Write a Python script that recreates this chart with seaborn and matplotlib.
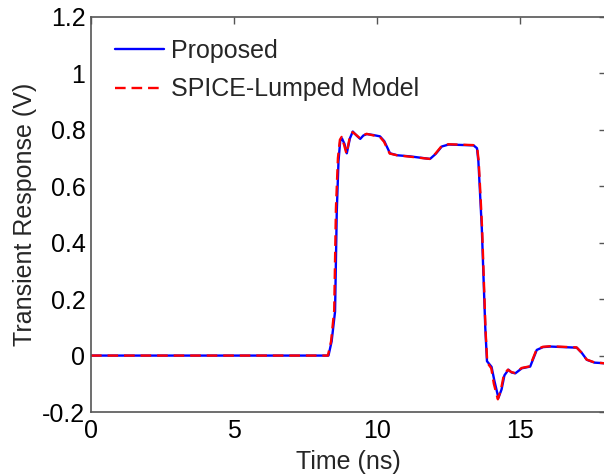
import numpy as np
import pandas as pd
import matplotlib
matplotlib.use("Agg")
import matplotlib.pyplot as plt
import seaborn as sns

# Data
t_prop = [0.0, 8.30, 8.41, 8.53, 8.59, 8.65, 8.71, 8.77, 8.86, 8.94, 9.05, 9.15, 9.28, 9.41,
          9.52, 9.64, 9.85, 10.10, 10.25, 10.45, 10.70, 11.15, 11.85, 12.05, 12.26, 12.5,
          13.37, 13.49, 13.54, 13.60, 13.66, 13.72, 13.78, 13.84, 14.00, 14.10, 14.24,
          14.35, 14.45, 14.59, 14.70, 14.83, 15.06, 15.35, 15.58, 15.80, 16.05, 16.98,
          17.15, 17.33, 17.60, 17.91, 18.20]
v_prop = [0.0, 0.0, 0.05, 0.156, 0.51, 0.688, 0.76, 0.77, 0.75, 0.717, 0.77, 0.794, 0.78, 0.768,
          0.78, 0.785, 0.782, 0.777, 0.76, 0.717, 0.71, 0.706, 0.697, 0.715, 0.741, 0.748,
          0.745, 0.735, 0.688, 0.57, 0.45, 0.274, 0.10, -0.02, -0.04, -0.09, -0.15,
          -0.12, -0.07, -0.05, -0.06, -0.063, -0.045, -0.039, 0.02, 0.03, 0.032, 0.028,
          0.01, -0.015, -0.025, -0.027, -0.03]
t_spice = [0.0, 8.28, 8.39, 8.50, 8.56, 8.63, 8.70, 8.76, 8.85, 8.93, 9.04, 9.14, 9.27, 9.40,
           9.51, 9.63, 9.84, 10.09, 10.24, 10.44, 10.69, 11.14, 11.84, 12.04, 12.25, 12.49,
           13.36, 13.50, 13.55, 13.61, 13.67, 13.73, 13.79, 13.85, 13.99, 14.08, 14.22,
           14.33, 14.43, 14.57, 14.68, 14.82, 15.05, 15.34, 15.57, 15.79, 16.04, 16.97,
           17.14, 17.32, 17.59, 17.90, 18.20]
v_spice = [0.0, 0.0, 0.05, 0.16, 0.52, 0.70, 0.765, 0.775, 0.745, 0.715, 0.772, 0.792, 0.782, 0.77,
           0.78, 0.786, 0.781, 0.776, 0.758, 0.716, 0.71, 0.705, 0.697, 0.716, 0.742, 0.749,
           0.746, 0.735, 0.69, 0.575, 0.45, 0.27, 0.09, -0.025, -0.045, -0.10, -0.155,
           -0.12, -0.068, -0.05, -0.058, -0.062, -0.044, -0.038, 0.021, 0.031, 0.033, 0.029,
           0.011, -0.014, -0.024, -0.027, -0.03]
x_ticks = [0, 5, 10, 15]
y_ticks = [-0.2, 0, 0.2, 0.4, 0.6, 0.8, 1.0, 1.2]
y_tick_labels = ["-0.2", "0", "0.2", "0.4", "0.6", "0.8", "1", "1.2"]

df = pd.concat([
    pd.DataFrame({"t": t_prop, "v": v_prop, "s": "Proposed"}),
    pd.DataFrame({"t": t_spice, "v": v_spice, "s": "SPICE-Lumped Model"}),
])

sns.set_style("white")
plt.rcParams["font.family"] = ["Liberation Sans", "DejaVu Sans"]

FS = 18
fig = plt.figure(figsize=(6.04, 4.75), dpi=100)
ax = fig.add_axes([91/604, (475-412)/475, (606-91)/604, 395/475])

sns.lineplot(data=df, x="t", y="v", hue="s", style="s",
             palette={"Proposed": "#0000ff", "SPICE-Lumped Model": "#ff0000"},
             dashes={"Proposed": "", "SPICE-Lumped Model": (4.5, 2.5)},
             linewidth=1.7, ax=ax, sort=False, estimator=None)

ax.set_xlim(0, 18)
ax.set_ylim(-0.2, 1.2)
ax.set_xticks(x_ticks)
ax.set_xticklabels([str(v) for v in x_ticks])
ax.set_yticks(y_ticks)
ax.set_yticklabels(y_tick_labels)
ax.tick_params(direction="in", length=5, width=1, color="#555555", labelsize=FS,
               top=True, right=True, labelcolor="black")
ax.tick_params(axis="x", pad=5)
ax.tick_params(axis="y", pad=4)
for sp in ax.spines.values():
    sp.set_visible(True)
    sp.set_color("#555555")
    sp.set_linewidth(1.2)
ax.set_xlabel("Time (ns)", fontsize=FS, labelpad=5)
ax.set_ylabel("Transient Response (V)", fontsize=FS, labelpad=4)

leg = ax.legend(loc="upper left", frameon=False, fontsize=FS, handlelength=1.95,
                handletextpad=0.3, labelspacing=0.58, borderaxespad=0.55,
                bbox_to_anchor=(0.0, 1.005))
for h in leg.get_lines():
    h.set_linewidth(1.7)

fig.savefig("out.png", dpi=100)
